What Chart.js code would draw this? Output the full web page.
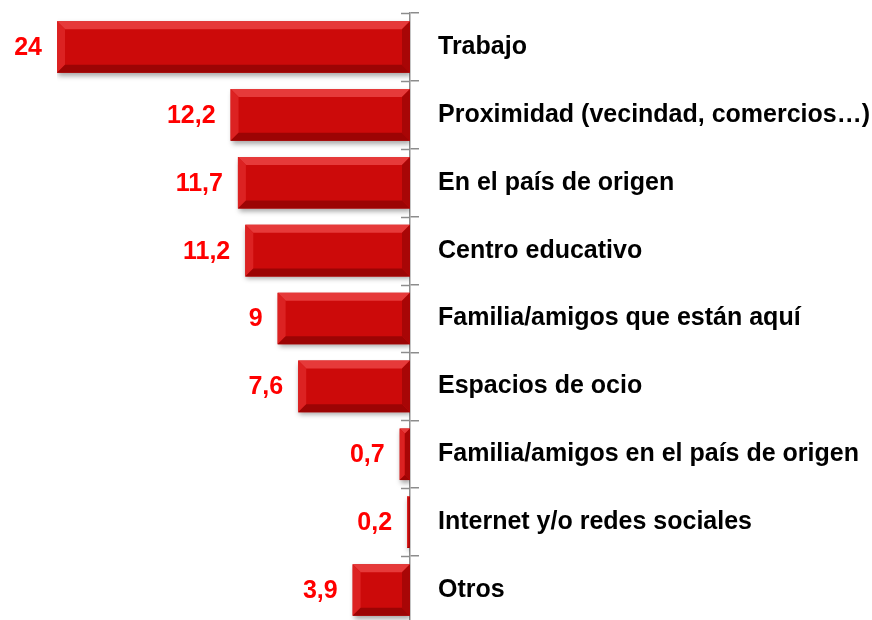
<!DOCTYPE html>
<html>
<head>
<meta charset="utf-8">
<script src="https://cdn.jsdelivr.net/npm/chart.js@4"></script>
<style>
  html, body { margin: 0; padding: 0; background: #fff; overflow: hidden; }
  #wrap { width: 872px; height: 624px; position: relative; }
</style>
</head>
<body>
<div id="wrap"><canvas id="myChart"></canvas></div>
<script>
// data block
const categories = [
  'Trabajo',
  'Proximidad (vecindad, comercios…)',
  'En el país de origen',
  'Centro educativo',
  'Familia/amigos que están aquí',
  'Espacios de ocio',
  'Familia/amigos en el país de origen',
  'Internet y/o redes sociales',
  'Otros'
];
const values = [24, 12.2, 11.7, 11.2, 9, 7.6, 0.7, 0.2, 3.9];
const valueLabels = ['24', '12,2', '11,7', '11,2', '9', '7,6', '0,7', '0,2', '3,9'];

const labelFont = { family: "'Liberation Sans', Arial, sans-serif", size: 25, weight: 'bold' };

// shadow under the bars
const barShadow = {
  id: 'barShadow',
  beforeDatasetsDraw(chart) {
    const ctx = chart.ctx;
    ctx.save();
    ctx.shadowColor = 'rgba(0,0,0,0.35)';
    ctx.shadowBlur = 5;
    ctx.shadowOffsetY = 3;
    ctx.shadowOffsetX = 1;
  },
  afterDatasetsDraw(chart) {
    chart.ctx.restore();
  }
};

// bevel edges + value labels + inner axis ticks
const bevelAndLabels = {
  id: 'bevelAndLabels',
  afterDatasetsDraw(chart) {
    const ctx = chart.ctx;
    const meta = chart.getDatasetMeta(0);
    meta.data.forEach((bar, i) => {
      const left = Math.min(bar.x, bar.base);
      const right = Math.max(bar.x, bar.base);
      const top = bar.y - bar.height / 2;
      const bottom = bar.y + bar.height / 2;
      const w = right - left;
      const b = Math.min(8, w / 2, bar.height / 2);
      ctx.save();
      // top
      ctx.fillStyle = '#e63a3a';
      ctx.beginPath();
      ctx.moveTo(left, top); ctx.lineTo(right, top);
      ctx.lineTo(right - b, top + b); ctx.lineTo(left + b, top + b);
      ctx.closePath(); ctx.fill();
      // left
      ctx.fillStyle = '#dc2222';
      ctx.beginPath();
      ctx.moveTo(left, top); ctx.lineTo(left + b, top + b);
      ctx.lineTo(left + b, bottom - b); ctx.lineTo(left, bottom);
      ctx.closePath(); ctx.fill();
      // bottom
      ctx.fillStyle = '#9c0404';
      ctx.beginPath();
      ctx.moveTo(left, bottom); ctx.lineTo(left + b, bottom - b);
      ctx.lineTo(right - b, bottom - b); ctx.lineTo(right, bottom);
      ctx.closePath(); ctx.fill();
      // right
      ctx.fillStyle = '#a80606';
      ctx.beginPath();
      ctx.moveTo(right, top); ctx.lineTo(right, bottom);
      ctx.lineTo(right - b, bottom - b); ctx.lineTo(right - b, top + b);
      ctx.closePath(); ctx.fill();

      // value label
      ctx.font = `bold ${labelFont.size}px ${labelFont.family}`;
      ctx.fillStyle = '#ff0000';
      ctx.textAlign = 'right';
      ctx.textBaseline = 'middle';
      ctx.fillText(valueLabels[i], left - 15, bar.y + 1);
      ctx.restore();
    });

    // tick marks on the inner side of the axis
    const yScale = chart.scales.y;
    const n = categories.length;
    ctx.save();
    ctx.strokeStyle = '#8c8c8c';
    ctx.lineWidth = 1.5;
    for (let i = 0; i <= n; i++) {
      const y = Math.round(yScale.top + i * yScale.height / n) + 0.5;
      ctx.beginPath();
      ctx.moveTo(yScale.left - 9, y);
      ctx.lineTo(yScale.left, y);
      ctx.stroke();
    }
    ctx.restore();
  }
};

const data = {
  labels: categories,
  datasets: [{
    data: values,
    backgroundColor: '#cc0a0a',
    borderWidth: 0,
    barPercentage: 0.76,
    categoryPercentage: 1
  }]
};

const options = {
  indexAxis: 'y',
  responsive: true,
  maintainAspectRatio: false,
  animation: false,
  layout: { padding: { left: 57, right: 0, top: 13, bottom: 0 } },
  plugins: {
    legend: { display: false },
    tooltip: { enabled: false }
  },
  scales: {
    x: {
      display: false,
      reverse: true,
      min: 0,
      max: 24
    },
    y: {
      position: 'right',
      afterFit(scale) {
        scale.width = 462;
        scale.paddingTop = 0;
        scale.paddingBottom = 0;
      },
      border: { display: true, color: '#8c8c8c', width: 1.5 },
      grid: {
        display: true,
        drawOnChartArea: false,
        drawTicks: true,
        tickLength: 9,
        color: '#8c8c8c',
        lineWidth: 1.5,
        offset: true
      },
      ticks: {
        color: '#000',
        font: labelFont,
        padding: 19,
        autoSkip: false
      }
    }
  }
};

const config = {
  type: 'bar',
  data,
  options,
  plugins: [barShadow, bevelAndLabels]
};

const myChart = new Chart(document.getElementById('myChart'), config);
</script>
</body>
</html>
